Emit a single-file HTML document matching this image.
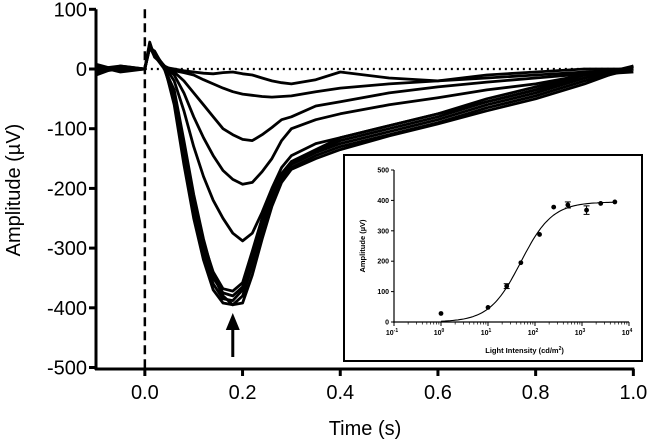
<!DOCTYPE html>
<html><head><meta charset="utf-8"><style>
body{margin:0;background:#fff;}
svg{display:block;font-family:"Liberation Sans",Arial,sans-serif;}
</style></head><body>
<svg id="chart" width="650" height="442" viewBox="0 0 650 442"></svg>
<script>
const times=[-0.1,-0.05,0,0.01,0.02,0.04,0.06,0.08,0.1,0.12,0.14,0.16,0.18,0.2,0.22,0.24,0.26,0.28,0.3,0.35,0.4,0.5,0.6,0.7,0.8,0.9,1.0];
const trace1=[0,5,0,40,25,5,-60,-160,-250,-320,-370,-392,-395,-380,-330,-270,-220,-185,-165,-145,-130,-110,-90,-65,-45,-20,0];
const trace2=[5,-5,0,35,30,0,-50,-150,-240,-310,-360,-385,-388,-370,-320,-262,-215,-180,-160,-140,-125,-105,-85,-60,-40,-15,5];
const trace3=[-5,0,0,45,20,5,-45,-140,-230,-300,-350,-375,-380,-365,-310,-255,-210,-178,-158,-138,-120,-100,-80,-55,-35,-10,0];
const trace4=[-10,5,0,38,28,3,-40,-130,-220,-290,-340,-368,-372,-358,-305,-250,-205,-175,-155,-135,-115,-95,-75,-50,-30,-10,-5];
const trace5=[8,-3,0,42,22,0,-35,-120,-210,-285,-345,-380,-395,-392,-345,-285,-230,-190,-168,-150,-135,-112,-92,-70,-50,-25,5];
const trace6=[0,3,0,38,25,5,-20,-70,-130,-180,-220,-250,-275,-288,-275,-240,-200,-165,-145,-125,-115,-95,-75,-55,-35,-15,0];
const trace7=[3,-2,0,40,22,5,-10,-40,-80,-115,-145,-170,-185,-193,-190,-172,-150,-120,-100,-85,-75,-60,-48,-35,-25,-10,0];
const trace8=[-3,2,0,36,24,3,-5,-20,-40,-60,-80,-100,-110,-118,-120,-110,-98,-85,-80,-62,-55,-40,-30,-22,-15,-8,0];
const trace9=[2,0,0,38,20,5,-3,-6,-10,-18,-25,-32,-38,-42,-44,-46,-47,-46,-45,-38,-32,-25,-20,-10,-5,0,0];
const trace10=[-2,3,0,40,25,3,0,-3,-5,-7,-8,-6,-5,-8,-10,-15,-20,-23,-25,-18,-5,-15,-20,-15,-10,-5,0];
const traces=[trace1,trace2,trace3,trace4,trace5,trace6,trace7,trace8,trace9,trace10];
const yTicks=[100,0,-100,-200,-300,-400,-500];
const xTicks=[0.0,0.2,0.4,0.6,0.8,1.0];
const xTickLabels=["0.0","0.2","0.4","0.6","0.8","1.0"];
const arrowTime=0.18;
const insetIntensity=[1,10,25,50,125,250,500,1250,2500,5000];
const insetAmp=[28,48,118,195,288,378,385,368,390,395];
const insetErr=[0,0,8,0,0,0,10,14,0,0];
const insetYTicks=[0,100,200,300,400,500];
const insetXDecades=[-1,0,1,2,3,4];
const fitMax=395, fitEC50=50, fitHill=1.3;

const NS="http://www.w3.org/2000/svg";
const svg=document.getElementById('chart');
function mk(tag,attrs,parent){const e=document.createElementNS(NS,tag);for(const k in attrs)e.setAttribute(k,attrs[k]);(parent||svg).appendChild(e);return e;}
const X=t=>96+(t+0.1)*488.5;
const Y=v=>69-v*0.597;

const gT=mk('g',{});


traces.forEach((tr,i)=>{
  const p=mk('polyline',{points:tr.map((v,j)=>X(times[j]).toFixed(1)+','+Y(v).toFixed(1)).join(' '),fill:'none',stroke:'#000','stroke-width':2.8,'stroke-linejoin':'round'},gT);
  
  
});
const zl=mk('line',{x1:X(0),x2:X(1.0),y1:Y(0),y2:Y(0),stroke:'#000','stroke-width':2.2,'stroke-dasharray':'2 4'});


const sl=mk('line',{x1:X(0),x2:X(0),y1:Y(100),y2:369,stroke:'#000','stroke-width':2.5,'stroke-dasharray':'9 5'});


const ag=mk('g',{});


mk('line',{x1:X(arrowTime),x2:X(arrowTime),y1:357,y2:325,stroke:'#000','stroke-width':3},ag);
mk('polygon',{points:`${X(arrowTime)-7},330 ${X(arrowTime)+7},330 ${X(arrowTime)},313`,fill:'#000'},ag);

const ax=mk('g',{});


mk('line',{x1:96,x2:96,y1:Y(100),y2:370,stroke:'#000','stroke-width':3},ax);
mk('line',{x1:95,x2:X(1.0)+1,y1:369,y2:369,stroke:'#000','stroke-width':3},ax);
yTicks.forEach(v=>{
  mk('line',{x1:89,x2:96,y1:Y(v),y2:Y(v),stroke:'#000','stroke-width':3},ax);
  const t=mk('text',{x:87,y:Y(v)+7,'text-anchor':'end','font-size':20},ax);t.textContent=v;
  
  
});
xTicks.forEach((v,i)=>{
  mk('line',{x1:X(v),x2:X(v),y1:369,y2:376,stroke:'#000','stroke-width':3},ax);
  const t=mk('text',{x:X(v),y:399,'text-anchor':'middle','font-size':20},ax);t.textContent=xTickLabels[i];
  
  
});
const xt=mk('text',{x:365,y:435,'text-anchor':'middle','font-size':20});xt.textContent='Time (s)';


const yt=mk('text',{x:0,y:0,'text-anchor':'middle','font-size':20,transform:'translate(20,190) rotate(-90)'});yt.textContent='Amplitude (µV)';



const ig=mk('g',{});


mk('rect',{x:344,y:155,width:298,height:206,fill:'#fff',stroke:'#000','stroke-width':2},ig);
const IX=i=>394+(Math.log10(i)+1)*47;
const IY=v=>322-v*0.304;
mk('line',{x1:394,x2:394,y1:IY(500),y2:323,stroke:'#000','stroke-width':1.2},ig);
mk('line',{x1:393,x2:IX(1e4),y1:322,y2:322,stroke:'#000','stroke-width':1.2},ig);
insetYTicks.forEach(v=>{
  mk('line',{x1:391,x2:394,y1:IY(v),y2:IY(v),stroke:'#000','stroke-width':1},ig);
  const t=mk('text',{x:389,y:IY(v)+2.5,'text-anchor':'end','font-size':7,'font-weight':'bold'},ig);t.textContent=v;
  
  
});
insetXDecades.forEach(d=>{
  const x=IX(Math.pow(10,d));
  mk('line',{x1:x,x2:x,y1:322,y2:326,stroke:'#000','stroke-width':1},ig);
  if(d<4){for(let m=2;m<10;m++){const xm=IX(m*Math.pow(10,d));mk('line',{x1:xm,x2:xm,y1:322,y2:324.5,stroke:'#000','stroke-width':0.7},ig);}}
  const t=mk('text',{x:x-2,y:335,'text-anchor':'middle','font-size':7,'font-weight':'bold'},ig);
  t.innerHTML='10<tspan dy="-3" font-size="5">'+d+'</tspan>';
  
  
});
let pts=[];
for(let l=0;l<=3.72;l+=0.04){const I=Math.pow(10,l);const v=fitMax*Math.pow(I,fitHill)/(Math.pow(I,fitHill)+Math.pow(fitEC50,fitHill));pts.push(IX(I).toFixed(1)+','+IY(v).toFixed(1));}
const fc=mk('polyline',{points:pts.join(' '),fill:'none',stroke:'#000','stroke-width':1.1},ig);


insetIntensity.forEach((I,i)=>{
  const x=IX(I),y=IY(insetAmp[i]);
  if(insetErr[i]>0){const e=insetErr[i]*0.304;
    mk('line',{x1:x,x2:x,y1:y-e,y2:y+e,stroke:'#000','stroke-width':1},ig);
    mk('line',{x1:x-3,x2:x+3,y1:y-e,y2:y-e,stroke:'#000','stroke-width':1},ig);
    mk('line',{x1:x-3,x2:x+3,y1:y+e,y2:y+e,stroke:'#000','stroke-width':1},ig);}
  const c=mk('circle',{cx:x,cy:y,r:2.4,fill:'#000'},ig);
  
  
});
const ixt=mk('text',{x:IX(60),y:353,'text-anchor':'middle','font-size':7.5,'font-weight':'bold'},ig);
ixt.innerHTML='Light Intensity (cd/m<tspan dy="-3" font-size="5">2</tspan><tspan dy="3">)</tspan>';


const iyt=mk('text',{x:0,y:0,'text-anchor':'middle','font-size':7.5,'font-weight':'bold',transform:`translate(365,${IY(250)}) rotate(-90)`},ig);
iyt.textContent='Amplitude (µV)';


</script>
</body></html>
